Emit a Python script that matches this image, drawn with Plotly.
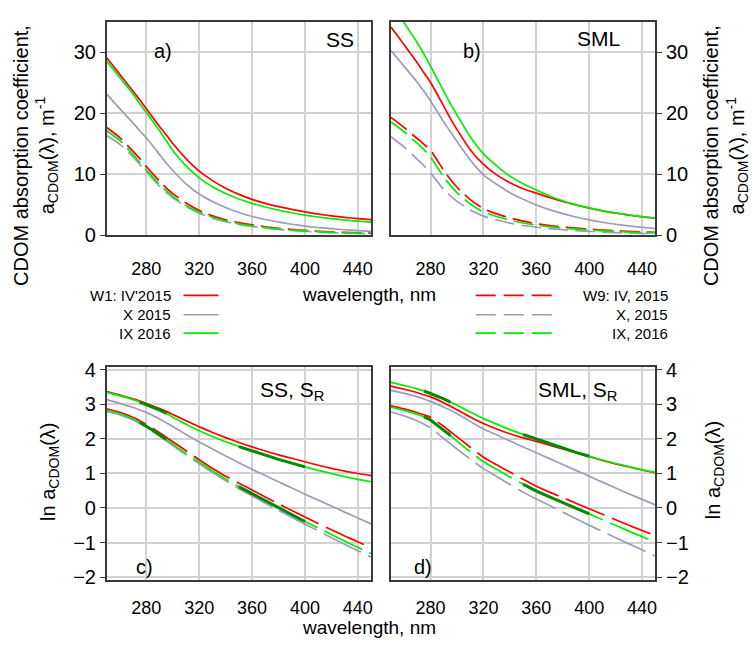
import numpy as np
import plotly.graph_objects as go

# wavelengths, nm
WL = [250, 260, 270, 275, 280, 290, 295, 300, 310, 320, 330, 340, 350, 360, 370, 380, 390, 400, 410, 420, 430, 440, 450]

# ln a_CDOM values, SS (subsurface water)
SS_W1_IV2015 = [3.37, 3.27, 3.16, 3.10, 3.03, 2.88, 2.80, 2.71, 2.53, 2.35, 2.19, 2.04, 1.90, 1.77, 1.65, 1.54, 1.44, 1.34, 1.24, 1.15, 1.07, 1.00, 0.94]
SS_W1_X2015 = [3.14, 3.03, 2.91, 2.84, 2.77, 2.58, 2.47, 2.36, 2.13, 1.91, 1.71, 1.51, 1.31, 1.12, 0.94, 0.76, 0.58, 0.40, 0.23, 0.06, -0.12, -0.29, -0.46]
SS_W1_IX2016 = [3.35, 3.25, 3.14, 3.07, 3.00, 2.84, 2.74, 2.63, 2.43, 2.24, 2.07, 1.92, 1.78, 1.65, 1.53, 1.41, 1.30, 1.19, 1.09, 1.00, 0.91, 0.83, 0.76]
SS_W9_IV2015 = [2.87, 2.77, 2.62, 2.53, 2.42, 2.18, 2.05, 1.92, 1.66, 1.40, 1.15, 0.92, 0.72, 0.52, 0.32, 0.12, -0.07, -0.26, -0.45, -0.63, -0.81, -0.98, -1.15]
SS_W9_X2015 = [2.79, 2.70, 2.55, 2.45, 2.34, 2.08, 1.95, 1.81, 1.54, 1.28, 1.03, 0.79, 0.56, 0.35, 0.14, -0.07, -0.27, -0.47, -0.66, -0.86, -1.05, -1.24, -1.42]
SS_W9_IX2016 = [2.84, 2.74, 2.58, 2.48, 2.37, 2.12, 1.99, 1.85, 1.58, 1.33, 1.08, 0.84, 0.62, 0.41, 0.21, 0.01, -0.19, -0.39, -0.58, -0.77, -0.96, -1.14, -1.32]

# ln a_CDOM values, SML (surface microlayer)
SML_W1_IV2015 = [3.53, 3.44, 3.34, 3.28, 3.22, 3.05, 2.95, 2.85, 2.64, 2.45, 2.29, 2.15, 2.03, 1.93, 1.82, 1.71, 1.60, 1.49, 1.38, 1.28, 1.19, 1.10, 1.02]
SML_W1_X2015 = [3.41, 3.32, 3.22, 3.16, 3.09, 2.92, 2.83, 2.73, 2.51, 2.29, 2.12, 1.94, 1.77, 1.60, 1.43, 1.26, 1.09, 0.92, 0.75, 0.58, 0.41, 0.25, 0.09]
SML_W1_IX2016 = [3.64, 3.55, 3.45, 3.39, 3.32, 3.16, 3.07, 2.98, 2.78, 2.59, 2.43, 2.27, 2.13, 2.00, 1.86, 1.73, 1.61, 1.50, 1.39, 1.29, 1.20, 1.11, 1.03]
SML_W9_IV2015 = [2.96, 2.87, 2.76, 2.70, 2.63, 2.36, 2.21, 2.06, 1.76, 1.47, 1.25, 1.04, 0.83, 0.63, 0.46, 0.30, 0.14, -0.02, -0.18, -0.34, -0.50, -0.65, -0.80]
SML_W9_X2015 = [2.78, 2.67, 2.52, 2.43, 2.32, 2.01, 1.86, 1.71, 1.42, 1.14, 0.91, 0.68, 0.46, 0.26, 0.07, -0.12, -0.31, -0.50, -0.68, -0.86, -1.04, -1.21, -1.39]
SML_W9_IX2016 = [2.92, 2.83, 2.71, 2.64, 2.55, 2.25, 2.10, 1.94, 1.63, 1.34, 1.12, 0.90, 0.69, 0.49, 0.32, 0.15, -0.01, -0.17, -0.34, -0.50, -0.67, -0.83, -0.99]

# spectral slope fit ranges (S_R = S275-295 / S350-400)
FIT_RANGES = [(275, 295), (350, 400)]

X_TICKS = [280, 320, 360, 400, 440]
TOP_TICKS = [0, 10, 20, 30]
BOT_TICKS = [-2, -1, 0, 1, 2, 3, 4]

RED = "#FF0000"
GRAY = "#9C9CBA"
GREEN = "#00EE00"
DKGREEN = "#008A00"
FONT = "Arial, Liberation Sans, sans-serif"

series = {
    "SS": [
        ("W1: IV'2015", SS_W1_IV2015, RED, "solid"),
        ("X 2015", SS_W1_X2015, GRAY, "solid"),
        ("IX 2016", SS_W1_IX2016, GREEN, "solid"),
        ("W9: IV, 2015", SS_W9_IV2015, RED, "dash"),
        ("X, 2015", SS_W9_X2015, GRAY, "dash"),
        ("IX, 2016", SS_W9_IX2016, GREEN, "dash"),
    ],
    "SML": [
        ("W1: IV'2015", SML_W1_IV2015, RED, "solid"),
        ("X 2015", SML_W1_X2015, GRAY, "solid"),
        ("IX 2016", SML_W1_IX2016, GREEN, "solid"),
        ("W9: IV, 2015", SML_W9_IV2015, RED, "dash"),
        ("X, 2015", SML_W9_X2015, GRAY, "dash"),
        ("IX, 2016", SML_W9_IX2016, GREEN, "dash"),
    ],
}

fig = go.Figure()
wl = np.array(WL)

def add_panel(key, xa, ya, log_panel):
    for name, vals, col, dash in series[key]:
        v = np.array(vals)
        y = v if log_panel else np.exp(v)
        if dash == "dash":
            d = "42px,8px" if log_panel else "20px,7px"
        else:
            d = "solid"
        fig.add_trace(go.Scatter(x=wl, y=y, mode="lines", name=name, showlegend=False,
                                 line=dict(color=col, width=1.7, dash=d, shape="spline", smoothing=0.6),
                                 xaxis=xa, yaxis=ya, hoverinfo="skip"))
    if log_panel:
        for name, vals, col, dash in series[key]:
            if col != GREEN:
                continue
            v = np.array(vals)
            for lo, hi in FIT_RANGES:
                m = (wl >= lo) & (wl <= hi)
                fig.add_trace(go.Scatter(x=wl[m], y=v[m], mode="lines", showlegend=False,
                                         line=dict(color=DKGREEN, width=3),
                                         xaxis=xa, yaxis=ya, hoverinfo="skip"))

add_panel("SS", "x", "y", False)
add_panel("SML", "x2", "y2", False)
add_panel("SS", "x3", "y3", True)
add_panel("SML", "x4", "y4", True)

W, H = 753, 650
xl = [107 / W, 372 / W]
xr = [392 / W, 657 / W]
yt = [1 - 234 / H, 1 - 14 / H]
yb = [1 - 589 / H, 1 - 370 / H]

grid = "#D2D2D2"
axline = "#3A3A3A"

def xaxis(dom, anchor, tl):
    return dict(domain=dom, anchor=anchor, range=[250, 450], tickvals=X_TICKS,
                showgrid=True, gridcolor=grid, gridwidth=1.5, showline=True, mirror=True,
                linecolor=axline, linewidth=1.5, ticks="outside", ticklen=tl,
                tickcolor="rgba(0,0,0,0)", tickfont=dict(size=18, family=FONT, color="black"),
                zeroline=False)

def yaxis(dom, anchor, rng, tv, side):
    return dict(domain=dom, anchor=anchor, range=rng, tickvals=tv, side=side,
                showgrid=True, gridcolor=grid, gridwidth=1.5, showline=True, mirror=True,
                linecolor=axline, linewidth=1.5, ticks="outside", ticklen=5, tickcolor=axline,
                tickfont=dict(size=20, family=FONT, color="black"), zeroline=False)

fig.update_layout(
    width=W, height=H, margin=dict(l=0, r=0, t=0, b=0),
    paper_bgcolor="white", plot_bgcolor="white",
    font=dict(family=FONT, color="black", size=18),
    xaxis=xaxis(xl, "y", 16), yaxis=yaxis(yt, "x", [0, 35], TOP_TICKS, "left"),
    xaxis2=xaxis(xr, "y2", 16), yaxis2=yaxis(yt, "x2", [0, 35], TOP_TICKS, "right"),
    xaxis3=xaxis(xl, "y3", 11), yaxis3=yaxis(yb, "x3", [-2.08, 4.08], BOT_TICKS, "left"),
    xaxis4=xaxis(xr, "y4", 11), yaxis4=yaxis(yb, "x4", [-2.08, 4.08], BOT_TICKS, "right"),
)

ann = []
def A(text, x, y, size, **kw):
    d = dict(text=text, x=x, y=y, xref="paper", yref="paper", showarrow=False,
             font=dict(size=size, family=FONT, color="black"))
    d.update(kw)
    ann.append(d)

ytitle = "CDOM absorption coefficient,<br>a<sub>CDOM</sub>(λ), m<sup>-1</sup>"
A(ytitle, 35.5 / W, 1 - 152 / H, 20, textangle=-90, xanchor="center", yanchor="middle")
A(ytitle, 727.5 / W, 1 - 152 / H, 20, textangle=-90, xanchor="center", yanchor="middle")
A("ln a<sub>CDOM</sub>(λ)", 49 / W, 1 - 478 / H, 20, textangle=-90, xanchor="center", yanchor="middle")
A("ln a<sub>CDOM</sub>(λ)", 716 / W, 1 - 476 / H, 20, textangle=-90, xanchor="center", yanchor="middle")
A("wavelength, nm", 370 / W, 1 - 295 / H, 19, xanchor="center", yanchor="middle")
A("wavelength, nm", 370 / W, 0, 19, xanchor="center", yanchor="bottom", borderpad=0)

A("a)", 163 / W, 1 - 44 / H, 20, xanchor="center", yanchor="middle")
A("SS", 341 / W, 1 - 32 / H, 21, xanchor="center", yanchor="middle")
A("b)", 473 / W, 1 - 44 / H, 20, xanchor="center", yanchor="middle")
A("SML", 600 / W, 1 - 31 / H, 21, xanchor="center", yanchor="middle")
A("SS, S<sub>R</sub>", 293 / W, 1 - 395 / H, 21, xanchor="center", yanchor="middle")
A("c)", 145 / W, 1 - 576 / H, 20, xanchor="center", yanchor="middle")
A("SML, S<sub>R</sub>", 579 / W, 1 - 395 / H, 21, xanchor="center", yanchor="middle")
A("d)", 424 / W, 1 - 576 / H, 20, xanchor="center", yanchor="middle")

# legend (drawn manually)
rows = [296, 316, 335]
shapes = []
left_items = series["SS"][:3]
right_items = series["SS"][3:]
for (name, _, col, _), r in zip(left_items, rows):
    A(name, 173 / W, 1 - r / H, 15, xanchor="right", yanchor="middle")
    shapes.append(dict(type="line", xref="paper", yref="paper", x0=184 / W, x1=219 / W,
                       y0=1 - r / H, y1=1 - r / H, line=dict(color=col, width=1.7)))
for (name, _, col, _), r in zip(right_items, rows):
    A(name, 672 / W, 1 - r / H, 15, xanchor="right", yanchor="middle")
    shapes.append(dict(type="line", xref="paper", yref="paper", x0=477 / W, x1=554 / W,
                       y0=1 - r / H, y1=1 - r / H, line=dict(color=col, width=1.7, dash="20px,8px")))

fig.update_layout(annotations=ann, shapes=shapes)
fig.write_html("out.html")
